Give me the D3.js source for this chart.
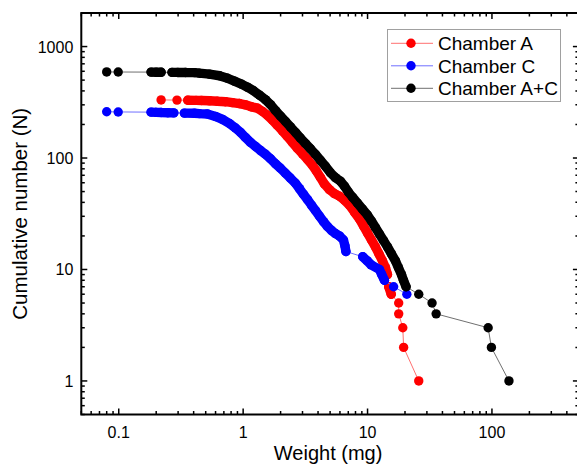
<!DOCTYPE html>
<html><head><meta charset="utf-8">
<script src="https://cdn.jsdelivr.net/npm/d3@7"></script>
<style>body{margin:0;background:#fff}svg{display:block}text{font-family:"Liberation Sans",Arial,sans-serif;fill:#000}</style>
</head><body><svg id="c" width="577" height="465"></svg>
<script>
const seriesNames = ["Chamber A", "Chamber C", "Chamber A+C"];
const seriesColors = ["#ff0000", "#0000ff", "#000000"];
const lineColors = ["#ff7070", "#7070ff", "#707070"];

const weightA = [0.219,0.294,0.359,0.419,0.462,0.536,0.621,0.721,0.820,0.934,1.043,1.166,1.303,1.43,1.567,1.72,1.887,2.07,2.27,2.49,2.733,3.0,3.29,3.61,3.88,4.18,4.50,4.94,5.42,5.94,6.52,7.15,7.85,8.61,9.27,9.98,10.75,11.57,12.35,13.18,13.93,14.46,14.8,15.5,17.8,17.8,19.2,19.5,25.8];
const countA  = [332,331,330,329,328,326,323,320,314,308,300,288,280,262,242,219,196,175,156,138,122,109,97,86,76.5,67,58.5,52,47.9,45.5,41.9,37.8,32.7,28.4,24.6,21.3,18.4,15.95,13.8,11.96,10.4,9,7,6,5,4,3,2,1];

const weightC = [0.080,0.099,0.182,0.200,0.219,0.248,0.277,0.337,0.406,0.445,0.516,0.599,0.682,0.776,0.867,0.951,1.043,1.145,1.256,1.377,1.51,1.658,1.818,1.994,2.188,2.40,2.633,2.836,3.05,3.29,3.54,3.81,4.10,4.42,4.76,5.13,5.52,5.94,6.40,6.58,6.70,9.15,9.9,10.69,12.46,13.0,13.67,16.2,20.7];
const countC  = [260,259,258,257,256,255,254,253,252,250,248,236,222,204,186,170,153,138,127,117,108,98.4,88.8,80.9,73,65.9,59.4,53.1,47.4,42.4,37.8,33.8,30.2,26.9,24.3,22.4,21.0,20.0,18.4,16.3,14.5,13,12,11,10,9,8,7,6];

const weightAC = [0.080,0.099,0.182,0.200,0.219,0.268,0.298,0.344,0.406,0.445,0.536,0.645,0.748,0.851,0.969,1.083,1.21,1.352,1.51,1.658,1.818,1.994,2.188,2.40,2.633,2.888,3.168,3.475,3.81,4.18,4.59,5.03,5.52,6.06,6.52,7.02,7.56,8.29,9.10,9.98,10.75,11.57,12.46,13.43,14.46,15.56,16.76,17.7,18.74,19.44,20.4,25.8,33.0,35.6,93.2,99,137];
const countAC  = [592,591,590,589,588,587,586,585,584,577,565,547,520,489,460,432,402,367,334,302,267,238,213,190,170,151,135,121,108,95.3,84.3,73.8,66.6,61.9,55.9,49.4,44.6,39.4,34.8,30.8,27.2,23.8,20.8,18.2,15.95,13.8,11.96,10.4,9,8,7,6,5,4,3,2,1];

const xTickValues = [0.1, 1, 10, 100];
const xTickLabels = ["0.1", "1", "10", "100"];
const yTickValues = [1, 10, 100, 1000];
const yTickLabels = ["1", "10", "100", "1000"];
const xTitle = "Weight (mg)";
const yTitle = "Cumulative number (N)";

const series = [
  {name: seriesNames[0], w: weightA, n: countA, color: seriesColors[0], line: lineColors[0]},
  {name: seriesNames[1], w: weightC, n: countC, color: seriesColors[1], line: lineColors[1]},
  {name: seriesNames[2], w: weightAC, n: countAC, color: seriesColors[2], line: lineColors[2]}
];

const L = 81.3, R = 578.9, T = 13, B = 414.5;
const x = d3.scaleLog().domain([0.05, 500]).range([L, R]);
const y = d3.scaleLog().domain([0.5, 2000]).range([B, T]);
const MR = 4.7;

const svg = d3.select("#c");

function minorTicks(dom) {
  const out = [];
  for (let e = -3; e <= 4; e++) for (let m = 1; m <= 9; m++) {
    const v = m * Math.pow(10, e);
    if (v >= dom[0] * 0.9999 && v <= dom[1] * 1.0001) out.push({v, major: m === 1});
  }
  return out;
}

const gAx = svg.append("g");
const xt = minorTicks(x.domain());
const yt = minorTicks(y.domain());
xt.forEach(t => {
  const len = t.major ? 6 : 3.5;
  gAx.append("line").attr("x1", x(t.v)).attr("x2", x(t.v)).attr("y1", B).attr("y2", B - len).attr("stroke", "#000").attr("stroke-width", 1.5);
  gAx.append("line").attr("x1", x(t.v)).attr("x2", x(t.v)).attr("y1", T).attr("y2", T + len).attr("stroke", "#000").attr("stroke-width", 1.5);
});
yt.forEach(t => {
  const len = t.major ? 6 : 3.5;
  gAx.append("line").attr("x1", L).attr("x2", L + len).attr("y1", y(t.v)).attr("y2", y(t.v)).attr("stroke", "#000").attr("stroke-width", 1.5);
  gAx.append("line").attr("x1", R).attr("x2", R - len).attr("y1", y(t.v)).attr("y2", y(t.v)).attr("stroke", "#000").attr("stroke-width", 1.5);
});
gAx.append("rect").attr("x", L).attr("y", T).attr("width", R - L).attr("height", B - T).attr("fill", "none").attr("stroke", "#000").attr("stroke-width", 2);

xTickValues.forEach((v, i) => {
  svg.append("text").attr("x", x(v)).attr("y", B + 23).attr("text-anchor", "middle").attr("font-size", 16).text(xTickLabels[i]);
});
yTickValues.forEach((v, i) => {
  svg.append("text").attr("x", L - 8).attr("y", y(v) + 6).attr("text-anchor", "end").attr("font-size", 16).text(yTickLabels[i]);
});
svg.append("text").attr("x", (L + R) / 2 - 2).attr("y", 460).attr("text-anchor", "middle").attr("font-size", 20).text(xTitle);
svg.append("text").attr("transform", `translate(27,${(T + B) / 2}) rotate(-90)`).attr("text-anchor", "middle").attr("font-size", 20.5).text(yTitle);

const line = d3.line().x(d => x(d[0])).y(d => y(d[1]));
series.forEach(s => {
  const pts = s.w.map((w, i) => [w, s.n[i]]);
  const g = svg.append("g");
  g.append("path").attr("d", line(pts)).attr("fill", "none").attr("stroke", s.line).attr("stroke-width", 1);
  // where markers crowd together they merge into a continuous band
  let dBand = "";
  for (let i = 1; i < pts.length; i++) {
    const x0 = x(pts[i-1][0]), y0 = y(pts[i-1][1]), x1 = x(pts[i][0]), y1 = y(pts[i][1]);
    if (Math.hypot(x1 - x0, y1 - y0) < 10.5) dBand += `M${x0},${y0}L${x1},${y1}`;
  }
  g.append("path").attr("d", dBand).attr("fill", "none").attr("stroke", s.color).attr("stroke-width", MR * 2).attr("stroke-linecap", "round").attr("stroke-linejoin", "round");
  g.selectAll("circle").data(pts).join("circle")
    .attr("cx", d => x(d[0])).attr("cy", d => y(d[1])).attr("r", MR).attr("fill", s.color);
});

const lg = svg.append("g");
lg.append("rect").attr("x", 387.5).attr("y", 29.5).attr("width", 173).attr("height", 72).attr("fill", "#fff").attr("stroke", "#a0a0a0").attr("stroke-width", 1);
series.forEach((s, i) => {
  const cy = 43.3 + i * 22.5;
  lg.append("line").attr("x1", 391).attr("x2", 433).attr("y1", cy).attr("y2", cy).attr("stroke", s.line).attr("stroke-width", 1);
  lg.append("circle").attr("cx", 411).attr("cy", cy).attr("r", MR).attr("fill", s.color);
  lg.append("text").attr("x", 438).attr("y", cy + 6.8).attr("font-size", 19).text(s.name);
});
</script></body></html>
